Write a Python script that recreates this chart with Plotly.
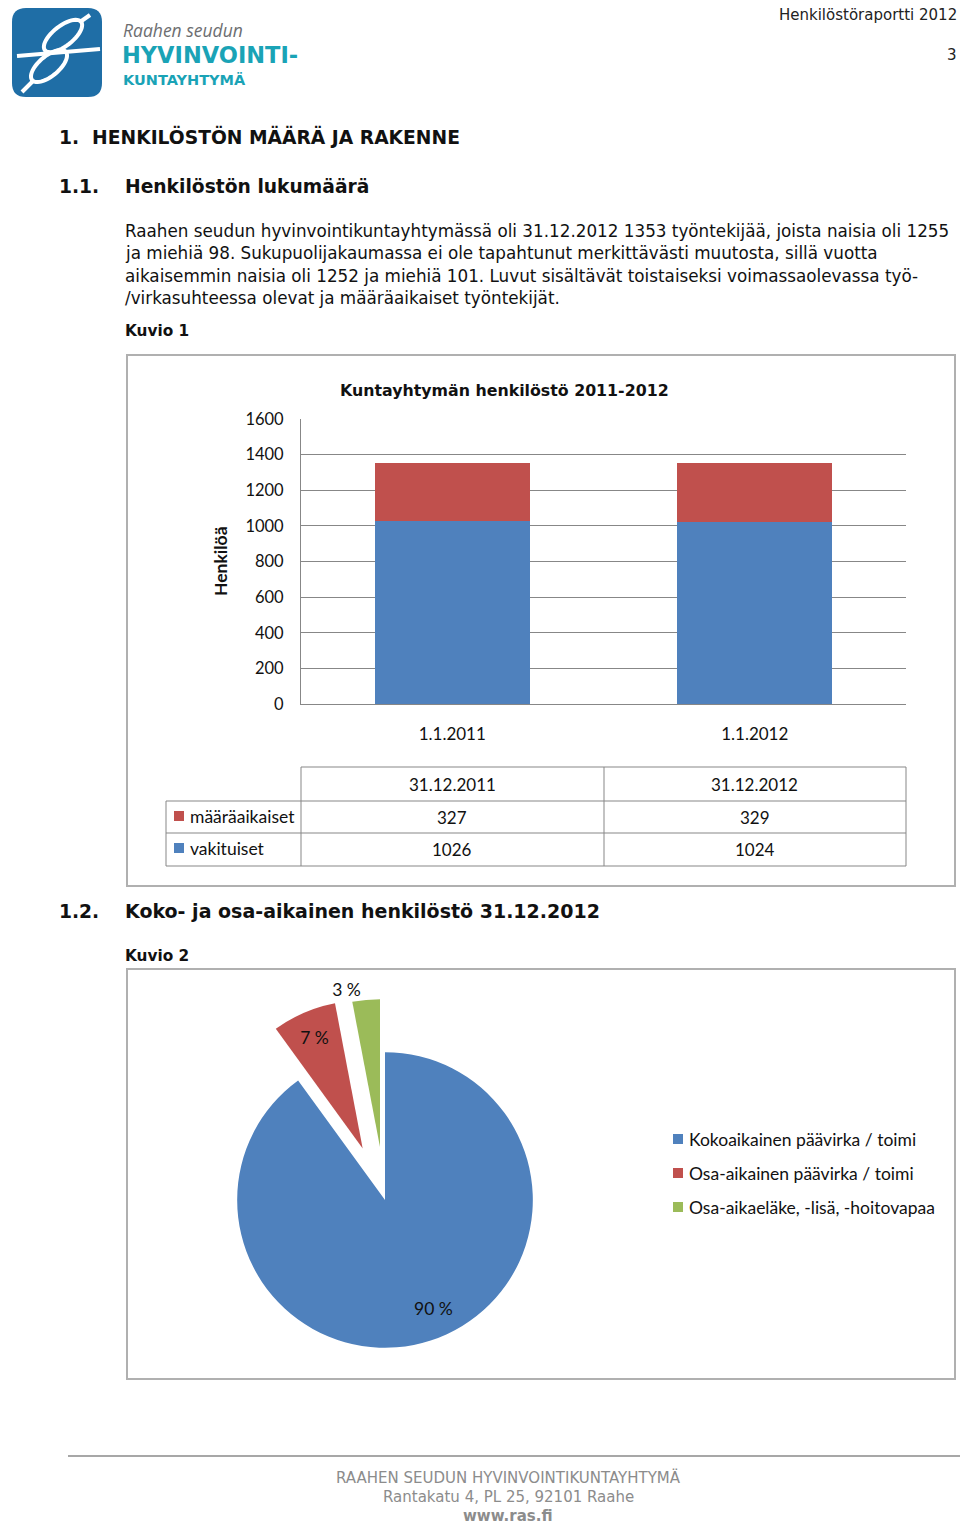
import math
import plotly.graph_objects as go

# ---------------- data ----------------
categories = ["1.1.2011", "1.1.2012"]
table_dates = ["31.12.2011", "31.12.2012"]
vakituiset = [1026, 1024]
maaraaikaiset = [327, 329]
y_ticks = [0, 200, 400, 600, 800, 1000, 1200, 1400, 1600]

pie_labels = ["Kokoaikainen päävirka / toimi",
              "Osa-aikainen päävirka / toimi",
              "Osa-aikaeläke, -lisä, -hoitovapaa"]
pie_values = [90, 7, 3]

body_lines = [
    "Raahen seudun hyvinvointikuntayhtymässä oli 31.12.2012 1353 työntekijää, joista naisia oli 1255",
    "ja miehiä 98. Sukupuolijakaumassa ei ole tapahtunut merkittävästi muutosta, sillä vuotta",
    "aikaisemmin naisia oli 1252 ja miehiä 101. Luvut sisältävät toistaiseksi voimassaolevassa työ-",
    "/virkasuhteessa olevat ja määräaikaiset työntekijät.",
]

# ---------------- style ----------------
W, H = 960, 1526
BLUE, RED, GREEN = "#4F81BD", "#C0504D", "#9BBB59"
GRID = "#878787"
BOX = "#B0B0B0"
BODY = "DejaVu Sans"
CHART = "Lato"
INK = "#111111"


def fx(x):
    return x / W


def fy(y):
    return 1 - y / H


fig = go.Figure()

# ---------------- bar chart ----------------
fig.add_trace(go.Bar(x=categories, y=vakituiset, name="vakituiset",
                     marker=dict(color=BLUE, line=dict(width=0)),
                     showlegend=False, xaxis="x", yaxis="y", hoverinfo="x+y"))
fig.add_trace(go.Bar(x=categories, y=maaraaikaiset, name="määräaikaiset",
                     marker=dict(color=RED, line=dict(width=0)),
                     showlegend=False, xaxis="x", yaxis="y", hoverinfo="x+y"))

# ---------------- pie chart ----------------
PIE_X = (181, 589)
PIE_Y = (996, 1404)
PULL = [0, 0.38, 0.36]
pie_text = [f"{v} %" for v in pie_values]
fig.add_trace(go.Pie(
    labels=pie_labels, values=pie_values,
    text=pie_text, textinfo="text",
    textposition=["none", "inside", "outside"],
    insidetextorientation="horizontal",
    textfont=dict(family=CHART, size=17.5, color=INK),
    sort=False, direction="clockwise", rotation=0,
    pull=PULL,
    marker=dict(colors=[BLUE, RED, GREEN], line=dict(color="white", width=0)),
    domain=dict(x=[fx(PIE_X[0]), fx(PIE_X[1])], y=[fy(PIE_Y[1]), fy(PIE_Y[0])]),
    showlegend=False, hoverinfo="label+percent",
))

shapes = []
ann = []


def text(x, y, s, size, family=BODY, color=INK, bold=False, anchor="left",
         italic=False, **kw):
    if bold:
        s = f"<b>{s}</b>"
    if italic:
        s = f"<i>{s}</i>"
    ann.append(dict(x=fx(x), y=fy(y), xref="paper", yref="paper", text=s,
                    showarrow=False, xanchor=anchor, yanchor="middle",
                    font=dict(family=family, size=size, color=color), **kw))


def line(x0, y0, x1, y1, color=GRID, width=1):
    shapes.append(dict(type="line", xref="paper", yref="paper",
                       x0=fx(x0), y0=fy(y0), x1=fx(x1), y1=fy(y1),
                       line=dict(color=color, width=width)))


def rect(x0, y0, x1, y1, fill=None, color=BOX, width=1.5):
    shapes.append(dict(type="rect", xref="paper", yref="paper",
                       x0=fx(x0), y0=fy(y0), x1=fx(x1), y1=fy(y1),
                       fillcolor=fill if fill else "rgba(0,0,0,0)",
                       line=dict(color=color, width=width if not fill else 0)))


# label of the large slice, placed from the slice geometry (mid angle, 0.8 r)
cx = (PIE_X[0] + PIE_X[1]) / 2
cy = (PIE_Y[0] + PIE_Y[1]) / 2
r = (PIE_X[1] - PIE_X[0]) / (2 + 2 * max(PULL))
mid = 360 * (pie_values[0] / 2) / sum(pie_values) - 6
text(cx + 0.8 * r * math.sin(math.radians(mid)),
     cy - 0.8 * r * math.cos(math.radians(mid)),
     pie_text[0], 17.5, family=CHART, anchor="center")

# ---------------- logo ----------------
def rounded_rect_path(x0, y0, x1, y1, rr):
    pts = [f"M {fx(x0 + rr)} {fy(y0)}", f"L {fx(x1 - rr)} {fy(y0)}",
           f"Q {fx(x1)} {fy(y0)} {fx(x1)} {fy(y0 + rr)}", f"L {fx(x1)} {fy(y1 - rr)}",
           f"Q {fx(x1)} {fy(y1)} {fx(x1 - rr)} {fy(y1)}", f"L {fx(x0 + rr)} {fy(y1)}",
           f"Q {fx(x0)} {fy(y1)} {fx(x0)} {fy(y1 - rr)}", f"L {fx(x0)} {fy(y0 + rr)}",
           f"Q {fx(x0)} {fy(y0)} {fx(x0 + rr)} {fy(y0)}", "Z"]
    return " ".join(pts)


shapes.append(dict(type="path", xref="paper", yref="paper",
                   path=rounded_rect_path(12, 8, 102, 97, 14),
                   fillcolor="#1F6EA6", line=dict(width=0)))


def ellipse_path(ex0, ey0, rx, ry, ang, n=48):
    a = math.radians(ang)
    pts = []
    for i in range(n):
        t = 2 * math.pi * i / n
        ex, ey = rx * math.cos(t), ry * math.sin(t)
        x = ex0 + ex * math.cos(a) - ey * math.sin(a)
        y = ey0 + ex * math.sin(a) + ey * math.cos(a)
        pts.append(f"{'M' if i == 0 else 'L'} {fx(x)} {fy(y)}")
    return " ".join(pts) + " Z"


for (ex0, ey0, rx, ry, ang) in [(63, 36, 23, 10, -38), (49, 66, 22, 10, -40)]:
    shapes.append(dict(type="path", xref="paper", yref="paper",
                       path=ellipse_path(ex0, ey0, rx, ry, ang),
                       fillcolor="rgba(0,0,0,0)", line=dict(color="white", width=4)))
line(17, 56, 100, 49, color="white", width=4)
line(80, 22, 90, 15, color="white", width=4)
line(34, 80, 22, 92, color="white", width=4)

text(121, 30, "Raahen seudun", 17.5, family="Open Sans", color="#6D6E71", italic=True)
text(120, 55.5, "HYVINVOINTI-", 22.5, family="DejaVu Sans", color="#1AA3B6", bold=True)
text(121, 80, "KUNTAYHTYMÄ", 14.5, family="DejaVu Sans", color="#1AA3B6", bold=True)

# ---------------- header ----------------
text(959, 15, "Henkilöstöraportti 2012", 15, anchor="right", color="#222222")
text(959, 55, "3", 15, anchor="right", color="#222222")

# ---------------- headings and body ----------------
text(57, 137, "1.  HENKILÖSTÖN MÄÄRÄ JA RAKENNE", 18.7, bold=True)
text(57, 186, "1.1.", 18.7, bold=True)
text(123, 186, "Henkilöstön lukumäärä", 18.7, bold=True)
for i, s in enumerate(body_lines):
    text(123, 231 + i * 22.3, s, 16.8)
text(123, 331, "Kuvio 1", 15.3, bold=True)

text(57, 911, "1.2.", 18.7, bold=True)
text(123, 911, "Koko- ja osa-aikainen henkilöstö 31.12.2012", 19, bold=True)
text(123, 956, "Kuvio 2", 15.3, bold=True)

# ---------------- chart boxes ----------------
rect(127, 355, 955, 886, width=2)
rect(127, 969, 955, 1379, width=2)

# chart 1 title and axis title
text(504, 390, "Kuntayhtymän henkilöstö 2011-2012", 15.8, bold=True, anchor="center")
ann.append(dict(x=fx(220), y=fy(561), xref="paper", yref="paper",
                text="<b>Henkilöä</b>", textangle=-90, showarrow=False,
                xanchor="center", yanchor="middle",
                font=dict(family=CHART, size=17.5, color=INK)))

# ---------------- data table ----------------
line(301, 767, 906, 767)
for yy in (801, 833, 866):
    line(166, yy, 906, yy)
for xx in (301, 604, 906):
    line(xx, 767, xx, 866)
line(166, 801, 166, 866)

for cat, d, a, b in zip(categories, table_dates, maaraaikaiset, vakituiset):
    for yy, s in ((784, d), (817, str(a)), (849, str(b))):
        ann.append(dict(x=cat, y=fy(yy), xref="x", yref="paper", text=s,
                        showarrow=False, xanchor="center", yanchor="middle",
                        font=dict(family=CHART, size=17, color=INK)))

for yy, name, col in ((816, "määräaikaiset", RED), (848, "vakituiset", BLUE)):
    rect(174, yy - 5, 184, yy + 5, fill=col)
    text(188, yy, name, 17.5, family=CHART)

# ---------------- pie legend ----------------
for i, (lab, col) in enumerate(zip(pie_labels, [BLUE, RED, GREEN])):
    yy = 1139 + i * 34
    rect(673, yy - 5, 683, yy + 5, fill=col)
    text(687, yy, lab, 17.5, family=CHART)

# ---------------- footer ----------------
line(68, 1456, 960, 1456, color="#8A8A8A", width=1.5)
text(508, 1477, "RAAHEN SEUDUN HYVINVOINTIKUNTAYHTYMÄ", 15, anchor="center", color="#8C8C8C")
text(508, 1497, "Rantakatu 4, PL 25, 92101 Raahe", 15, anchor="center", color="#8C8C8C")
text(508, 1516, "www.ras.fi", 15, anchor="center", color="#8C8C8C", bold=True)

fig.update_layout(
    width=W, height=H, autosize=False,
    margin=dict(l=0, r=0, t=0, b=0, pad=0, autoexpand=False),
    paper_bgcolor="white", plot_bgcolor="rgba(0,0,0,0)",
    barmode="stack", bargap=0.4876,
    showlegend=False,
    xaxis=dict(domain=[fx(301), fx(906)], anchor="y", automargin=False,
               showline=True, linecolor=GRID, linewidth=1,
               showgrid=False, ticks="", ticklabelstandoff=15,
               tickfont=dict(family=CHART, size=17, color=INK),
               fixedrange=True),
    yaxis=dict(domain=[fy(704), fy(419)], anchor="x", automargin=False,
               range=[0, 1600], tickvals=y_ticks,
               showgrid=True, gridcolor=GRID, gridwidth=1,
               showline=True, linecolor=GRID, linewidth=1,
               zeroline=False, ticks="", ticklabelstandoff=13,
               tickfont=dict(family=CHART, size=16.5, color=INK),
               fixedrange=True),
    shapes=shapes,
    annotations=ann,
)

fig.write_html("out.html")
